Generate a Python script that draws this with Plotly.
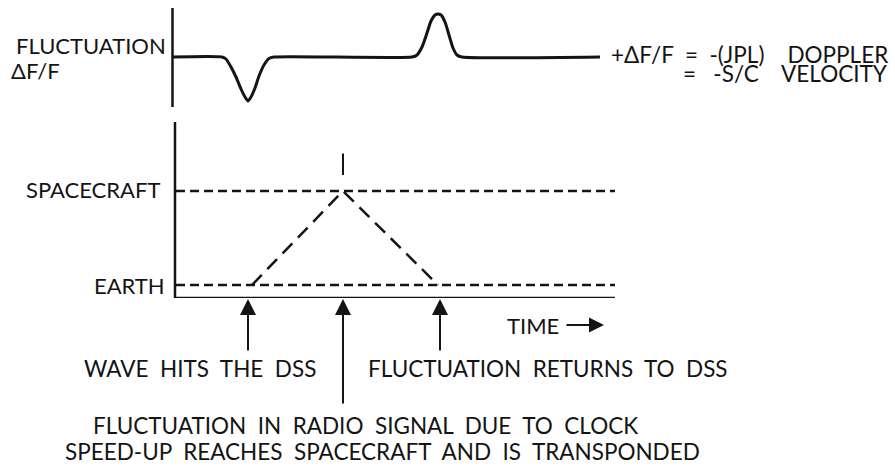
import plotly.graph_objects as go

W, H = 895, 468

# ---- data (time units along the shared horizontal axis) ----
# fluctuation trace (ΔF/F, arbitrary units)
fluct_t = [0.0, 5.0, 5.4, 5.9, 6.4, 6.9, 7.3, 7.6, 7.9, 8.3, 8.7, 9.2, 9.7, 10.2,
           24.0, 24.5, 25.0, 25.5, 25.9, 26.3, 26.6, 26.9, 27.3, 27.7, 28.1, 28.5, 29.0, 42.8]
fluct_v = [0.0, 0.0, -0.2, -1.0, -2.0, -3.2, -4.0, -4.4, -4.0, -3.1, -1.9, -0.8, -0.15, 0.0,
           0.0, 0.2, 1.0, 2.4, 3.6, 4.2, 4.3, 4.2, 3.5, 2.2, 0.9, 0.2, 0.0, 0.0]

# position levels (Earth = 0, Spacecraft = 1)
levels = {"EARTH": 0.0, "SPACECRAFT": 1.0}
level_t = [0.4, 44.3]

# light-path: wave hits DSS -> reaches spacecraft -> returns to DSS
path_t = [8.0, 17.1, 26.6]
path_y = [0.0, 1.0, 0.0]
apex_tick_y = [1.17, 1.40]

# event arrows (time of each event)
event_t = [7.6, 17.1, 26.8]
event_len = [53, 106, 53]   # arrow lengths below the time axis (px)

# axes extents
top_axis_y = [-5.0, 4.9]
bot_axis_y = [-0.138, 1.734]
time_axis_t = [0.3, 44.3]

# ---- helpers for paper layout ----
def px(x):
    return x / W

def py(y):
    return 1 - y / H

INK = "#141414"
FONT = "Lato"
FS = 22
NB = "\u00a0"
SP = NB * 2   # wide word spacing of the original lettering

fig = go.Figure()

# top panel: fluctuation curve
fig.add_trace(go.Scatter(x=fluct_t, y=fluct_v, mode="lines",
                         line=dict(color=INK, width=3, shape="spline", smoothing=0.6),
                         xaxis="x", yaxis="y", hoverinfo="skip"))
# top panel vertical axis
fig.add_trace(go.Scatter(x=[0.05, 0.05], y=top_axis_y, mode="lines",
                         line=dict(color=INK, width=2.5), xaxis="x", yaxis="y", hoverinfo="skip"))

# bottom panel: dashed level lines
for name, lv in levels.items():
    fig.add_trace(go.Scatter(x=level_t, y=[lv, lv], mode="lines",
                             line=dict(color=INK, width=2.5, dash="9px,5px"),
                             xaxis="x", yaxis="y2", hoverinfo="skip"))
# triangle light path
fig.add_trace(go.Scatter(x=path_t, y=path_y, mode="lines",
                         line=dict(color=INK, width=2.5, dash="14px,8px"),
                         xaxis="x", yaxis="y2", hoverinfo="skip"))
# tick above apex
fig.add_trace(go.Scatter(x=[path_t[1], path_t[1]], y=apex_tick_y, mode="lines",
                         line=dict(color=INK, width=2), xaxis="x", yaxis="y2", hoverinfo="skip"))
# bottom panel axes
fig.add_trace(go.Scatter(x=[time_axis_t[0], time_axis_t[0], time_axis_t[1]],
                         y=[bot_axis_y[1], bot_axis_y[0], bot_axis_y[0]], mode="lines",
                         line=dict(color=INK, width=2.5), xaxis="x", yaxis="y2", hoverinfo="skip"))

annotations = []
# event arrows pointing up to the time axis
for t, ln in zip(event_t, event_len):
    annotations.append(dict(x=t, xref="x", y=py(299), yref="paper",
                            ax=0, ay=ln, axref="pixel", ayref="pixel",
                            showarrow=True, arrowhead=2, arrowsize=1.6, arrowwidth=2,
                            arrowcolor=INK, text=""))

def txt(s, x, y, anchor="left", size=FS):
    annotations.append(dict(text=s, x=px(x), y=py(y), xref="paper", yref="paper",
                            xanchor=anchor, yanchor="middle", showarrow=False,
                            font=dict(family=FONT, size=size, color=INK)))

txt("FLUCTUATION", 168, 46, "right")
txt("\u0394F/F", 9, 70, "left")

# right-hand equation
txt("+\u0394F/F" + NB * 2 + "=" + NB * 2 + "-(JPL)" + NB * 4 + "DOPPLER", 890, 54, "right", 22.5)
txt("=" + NB * 3 + "-S/C" + NB * 4 + "VELOCITY", 890, 73, "right", 22.5)

txt("SPACECRAFT", 162, 189, "right")
txt("EARTH", 167, 285, "right")
txt("TIME", 505, 325, "left")
txt(SP.join("WAVE HITS THE DSS".split()), 318, 368, "right", 22.5)
txt(SP.join("FLUCTUATION RETURNS TO DSS".split()), 366, 368, "left", 22.5)
txt(SP.join("FLUCTUATION IN RADIO SIGNAL DUE TO CLOCK".split()), 640, 425, "right", 22.5)
txt(SP.join("SPEED-UP REACHES SPACECRAFT AND IS TRANSPONDED".split()), 702, 451, "right", 22.5)

# TIME arrow
annotations.append(dict(x=px(604), y=py(325), xref="paper", yref="paper",
                        ax=-39, ay=0, axref="pixel", ayref="pixel",
                        showarrow=True, arrowhead=2, arrowsize=1.5, arrowwidth=2,
                        arrowcolor=INK, text=""))

fig.update_layout(
    width=W, height=H, margin=dict(l=0, r=0, t=0, b=0),
    paper_bgcolor="white", plot_bgcolor="white", showlegend=False,
    xaxis=dict(range=[-17.2, 72.3], domain=[0, 1], visible=False, fixedrange=True),
    yaxis=dict(range=top_axis_y, domain=[py(107), py(8)], visible=False, fixedrange=True),
    yaxis2=dict(range=bot_axis_y, domain=[py(298), py(122)], visible=False, fixedrange=True),
    annotations=annotations,
)

fig.write_html("out.html", config={"displayModeBar": False},
               post_script="document.body.style.margin='0px';document.body.style.overflow='hidden';")
